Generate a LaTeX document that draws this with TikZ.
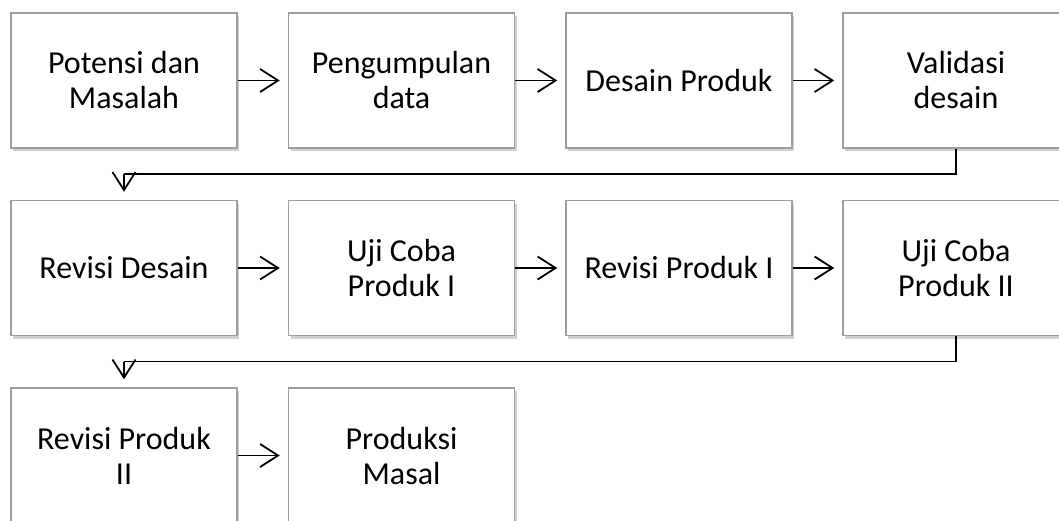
\documentclass[tikz,border=0pt]{standalone}
\usepackage{fontspec}
\setmainfont{Carlito}
\usepackage{tikz}
\usetikzlibrary{arrows.meta}
\usetikzlibrary{shadows}
\tikzset{
  tahap/.style={
    draw=black!38, line width=1.5pt, fill=white,
    minimum width=226pt, minimum height=135pt,
    align=center, inner sep=0pt,
    font=\fontsize{32pt}{35pt}\selectfont,
    drop shadow={shadow xshift=2pt, shadow yshift=-3pt, opacity=0.3, fill=black!60}
  },
  garis/.style={line width=1.8pt},
  panah/.style={
    garis,
    -{Straight Barb[length=18pt,width=23pt]},
    shorten >=8pt
  }
}

\begin{document}
\begin{tikzpicture}[x=1pt,y=-1pt]
\useasboundingbox (0,0) rectangle (1059,520);
\node[tahap] (potensi) at (124,80.5) {Potensi dan\\Masalah};
\node[tahap] (data) at (401.5,80.5) {Pengumpulan\\data};
\node[tahap] (desain) at (679,80.5) {Desain Produk};
\node[tahap] (validasi) at (956,80.5) {Validasi\\desain};
\node[tahap] (revdesain) at (124,268) {Revisi Desain};
\node[tahap] (uji1) at (401.5,268) {Uji Coba\\Produk I};
\node[tahap] (revproduk1) at (679,268) {Revisi Produk I};
\node[tahap] (uji2) at (956,268) {Uji Coba\\Produk II};
\node[tahap] (revproduk2) at (124,455.5) {Revisi Produk\\II};
\node[tahap] (produksi) at (401.5,455.5) {Produksi\\Masal};
% belokan antar baris
\coordinate (belok1) at (124,174);
\coordinate (belok2) at (124,361.5);
\draw[panah] (potensi) -- (data);
\draw[panah] (data) -- (desain);
\draw[panah] (desain) -- (validasi);
\draw[garis] (validasi.south) |- (belok1);
\draw[panah] (belok1) -- (revdesain.north);
\draw[panah] (revdesain) -- (uji1);
\draw[panah] (uji1) -- (revproduk1);
\draw[panah] (revproduk1) -- (uji2);
\draw[garis] (uji2.south) |- (belok2);
\draw[panah] (belok2) -- (revproduk2.north);
\draw[panah] (revproduk2) -- (produksi);
\end{tikzpicture}
\end{document}
